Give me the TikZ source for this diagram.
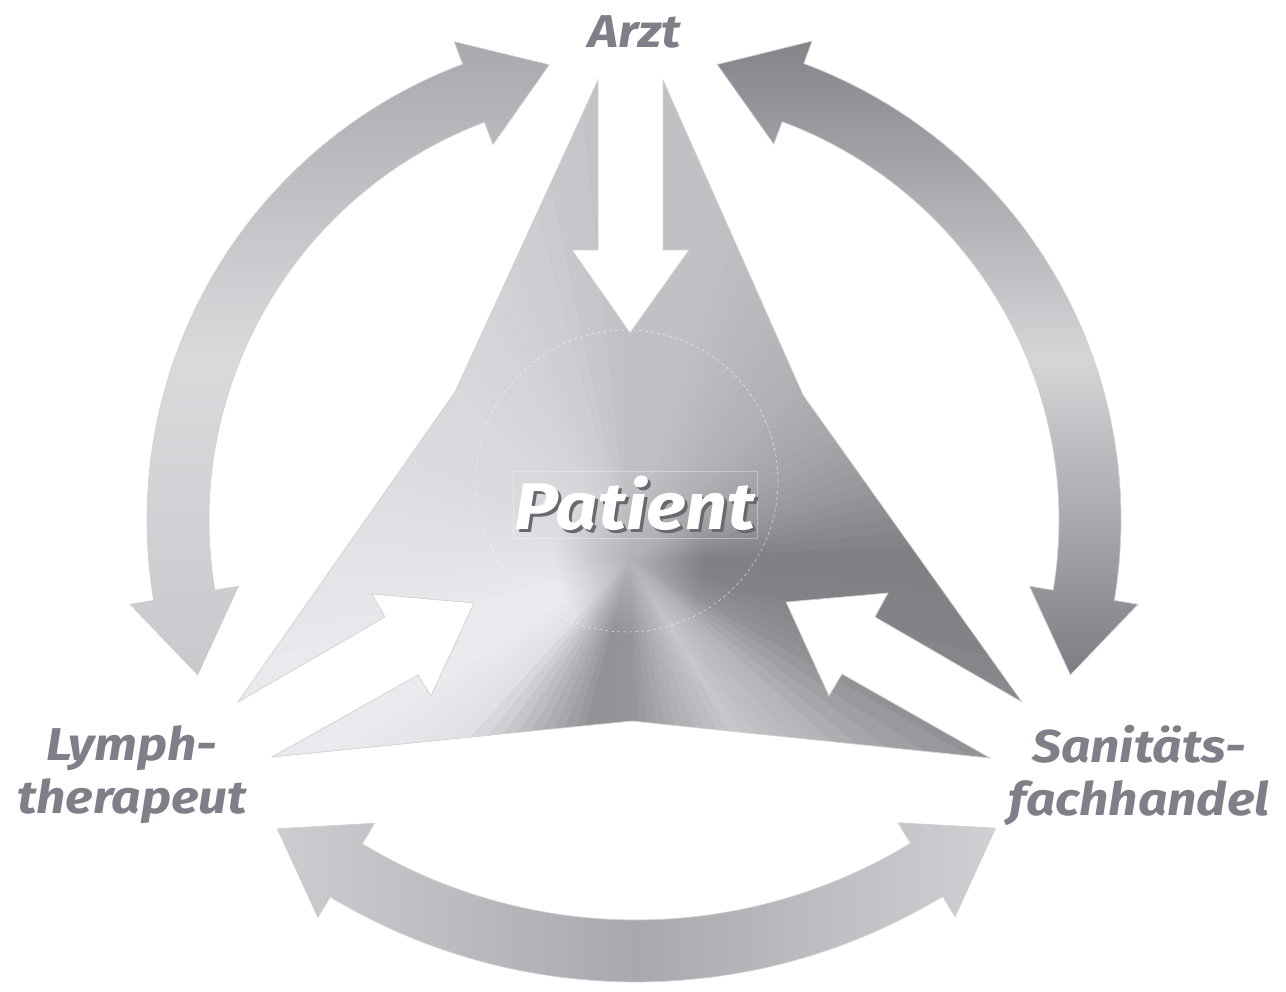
\documentclass[tikz,border=0pt]{standalone}
\usepackage{fontspec}
\newfontfamily\labelfont[FakeStretch=1.12]{Fira Sans}
\usetikzlibrary{calc,fadings}

\definecolor{labelgray}{RGB}{126,127,136}
\definecolor{shadowgray}{RGB}{105,105,112}
\definecolor{centregray}{RGB}{178,178,183}

\tikzfading[name=softspot, inner color=transparent!0, outer color=transparent!100]

% ring arrow: [style]{centre}{radius}{start angle}{end angle}
\newcommand{\ringarrow}[5][]{%
  \begin{scope}[shift={#2}]
    \pgfmathsetmacro{\arcRo}{#3+31}
    \pgfmathsetmacro{\arcRi}{#3-31}
    \pgfmathsetmacro{\arcBo}{#3+55}
    \pgfmathsetmacro{\arcBi}{#3-55}
    \pgfmathsetmacro{\arcHd}{deg(80/#3)}
    \pgfmathsetmacro{\arcRt}{#3/cos(\arcHd)}
    \pgfmathsetmacro{\arcTa}{#4-\arcHd}
    \pgfmathsetmacro{\arcTb}{#5+\arcHd}
    \path[#1] (\arcTa:\arcRt) -- (#4:\arcBo) -- (#4:\arcRo)
      arc[start angle=#4, end angle=#5, radius=\arcRo]
      -- (#5:\arcBo) -- (\arcTb:\arcRt) -- (#5:\arcBi) -- (#5:\arcRi)
      arc[start angle=#5, end angle=#4, radius=\arcRi]
      -- (#4:\arcBi) -- cycle;
  \end{scope}}

% text with a drop shadow
\newcommand{\droptext}[1]{%
  \makebox[0pt][l]{\hspace{3pt}\raisebox{-3pt}{\textcolor{shadowgray}{#1}}}#1}

\tikzset{
  party/.style={font=\labelfont\bfseries\itshape\fontsize{46}{53}\selectfont,
    text=labelgray, align=center, inner sep=0pt},
  patienttext/.style={font=\labelfont\bfseries\itshape\fontsize{66}{70}\selectfont,
    inner sep=0pt, minimum width=244, minimum height=67},
  metal edge/.style={draw=black!18, line width=0.7pt}
}

\begin{document}
\begin{tikzpicture}[x=1pt, y=1pt]
  \useasboundingbox (0,0) rectangle (1286,992);

  % curved arrows between the three parties
  \ringarrow[metal edge, top color={rgb,255:red,168;green,169;blue,174},
    bottom color={rgb,255:red,200;green,201;blue,205},
    middle color={rgb,255:red,218;green,218;blue,221}]{(634,472)}{456}{110.6}{189.5}
  \ringarrow[metal edge, top color={rgb,255:red,131;green,132;blue,138},
    bottom color={rgb,255:red,124;green,125;blue,131},
    middle color={rgb,255:red,214;green,214;blue,217}]{(634,472)}{456}{-9.5}{69.6}
  \ringarrow[metal edge, left color={rgb,255:red,205;green,205;blue,209},
    right color={rgb,255:red,208;green,208;blue,212},
    middle color={rgb,255:red,168;green,169;blue,174}]{(636,602)}{561}{238.9}{301.2}

  % central shape with the white arrows cut out
  \begin{scope}
    \clip (598,912) -- (598,742) -- (572,742) -- (630,659) -- (689,742)
      -- (663,742) -- (663,912) -- (803,597) -- (1022,290) -- (875,375)
      -- (888,399) -- (786,390) -- (829,296) -- (842,318) -- (990,234)
      -- (632,271) -- (272,235) -- (418,317) -- (431,296) -- (474,389)
      -- (372,398) -- (385,375) -- (238,290) -- (455,600) -- cycle;
    \begin{scope}[shift={(630,432)}]
      \foreach \a/\va/\vb in {0/128/150, 15/150/165, 30/165/176, 45/176/184,
          60/184/192, 75/192/192, 90/192/205, 105/205/212, 120/212/216,
          135/216/218, 150/218/222, 165/222/227, 180/227/233, 195/233/234,
          210/234/224, 225/224/180, 240/180/146, 255/146/150, 270/150/175,
          285/175/198, 300/198/180, 315/180/145, 330/145/130, 345/130/128}{
        \foreach \k in {0,...,4}{
          \pgfmathtruncatemacro{\wv}{\va+(\vb-\va)*\k/5}
          \pgfmathtruncatemacro{\wb}{min(\wv+5,255)}
          \pgfmathsetmacro{\wa}{\a+3*\k}
          \pgfmathsetmacro{\we}{\a+3*\k+3.6}
          \definecolor{wedge}{RGB}{\wv,\wv,\wb}
          \fill[wedge] (0,0) -- (\wa:900) -- (\we:900) -- cycle;
        }}
      % soften the centre of the sheen
      \fill[centregray, path fading=softspot] (0,0) circle[radius=75];
    \end{scope}
  \end{scope}
  \draw[metal edge] (598,912) -- (598,742) -- (572,742) -- (630,659) -- (689,742)
    -- (663,742) -- (663,912) -- (803,597) -- (1022,290) -- (875,375)
    -- (888,399) -- (786,390) -- (829,296) -- (842,318) -- (990,234)
    -- (632,271) -- (272,235) -- (418,317) -- (431,296) -- (474,389)
    -- (372,398) -- (385,375) -- (238,290) -- (455,600) -- cycle;

  % faint ring round the patient
  \draw[white, opacity=0.7, line width=0.5pt, dashed] (627,511) circle[radius=151];

  % labels
  \node[party] (arzt) at (635,960) {Arzt};
  \node[party] (lymph) at (132,217) {Lymph-\\therapeut};
  \node[party] (sani) at (1139,217) {Sanitäts-\\fachhandel};
  \node[patienttext, text=white, draw=white, draw opacity=0.35, line width=0.4pt]
    (patient) at (635,487) {\droptext{Patient}};
\end{tikzpicture}
\end{document}
